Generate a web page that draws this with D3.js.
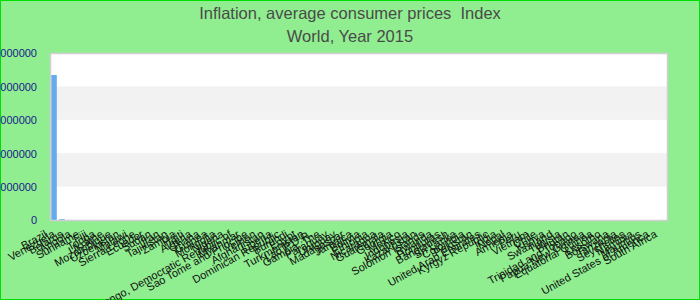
<!DOCTYPE html>
<html><head><meta charset="utf-8">
<script src="https://cdn.jsdelivr.net/npm/d3@7/dist/d3.min.js"></script>
<style>
html,body{margin:0;padding:0;background:#90EE90;}
svg{display:block;}
text.title{white-space:pre;}
</style></head>
<body>
<svg id="chart" width="700" height="300"></svg>
<script>
const titleLines = ["Inflation, average consumer prices  Index", "World, Year 2015"];
const countries = ["Brazil","Venezuela","Belarus","Angola","Suriname","Fiji","Tonga","Ukraine","Mozambique","Uzbekistan","Malawi","Sierra Leone","Ecuador","Sudan","Iran","Tajikistan","Zambia","Haiti","Algeria","Ghana","Guinea","Mongolia","Nigeria","Congo, Democratic Republic of","Myanmar","Sao Tome and Principe","Yemen","Afghanistan","Liberia","Dominican Republic","Burundi","Egypt","Turkmenistan","Lao P.D.R.","Gambia, The","Paraguay","Uruguay","Madagascar","Jamaica","Bolivia","Ethiopia","Nicaragua","Guatemala","Georgia","Mexico","Indonesia","Kazakhstan","Solomon Islands","Rwanda","Honduras","Bangladesh","Sri Lanka","Colombia","Pakistan","United Arab Emirates","Kyrgyz Republic","India","Nepal","Armenia","Peru","Vietnam","Chile","Kenya","Swaziland","Tunisia","Bhutan","Trinidad and Tobago","Papua New Guinea","Equatorial Guinea","Lesotho","Botswana","Tanzania","Seychelles","Namibia","Mauritius","United States of America","South Africa"];
const values = [43400000,260000,41000,23500,18200,15400,12800,11000,9600,8700,7900,7100,6500,5900,5400,4900,4500,4100,3800,3500,3200,2950,2700,2500,2300,2150,2000,1850,1720,1600,1490,1390,1300,1210,1130,1060,990,930,870,815,765,720,675,635,600,565,530,500,472,445,420,396,374,353,333,315,298,282,266,252,238,225,213,202,191,181,171,162,154,146,138,131,124,118,112,107,101];
const yTicks = [0,10000000,20000000,30000000,40000000,50000000];

const svg = d3.select("#chart");
const W = 700, H = 300;
svg.append("rect").attr("x",0.5).attr("y",0.5).attr("width",W-1).attr("height",H-1)
  .attr("fill","#90EE90").attr("stroke","#00e000").attr("stroke-width",1);

const tfont = "'Liberation Sans',Arial,sans-serif";
svg.selectAll("text.title").data(titleLines).enter().append("text")
  .attr("class","title").attr("x",W/2).attr("y",(d,i)=>19+i*23)
  .attr("text-anchor","middle").attr("font-family",tfont).attr("font-size",16.5)
  .attr("fill","#4a4a4a").text(d=>d);

const m = {l:50, r:32, t:53, b:80};
const x = d3.scaleBand().domain(countries).range([m.l, W-m.r]).paddingInner(0.3).paddingOuter(0.15);
const y = d3.scaleLinear().domain([0,50000000]).range([H-m.b, m.t]);

svg.append("rect").attr("x",m.l).attr("y",m.t).attr("width",W-m.r-m.l).attr("height",H-m.b-m.t).attr("fill","#fff");
const bands = yTicks.slice(0,-1).map((d,i)=>[d,yTicks[i+1]]).filter((d,i)=>i%2===1);
svg.selectAll("rect.band").data(bands).enter().append("rect").attr("class","band")
  .attr("x",m.l).attr("width",W-m.r-m.l).attr("y",d=>y(d[1])).attr("height",d=>y(d[0])-y(d[1]))
  .attr("fill","#f2f2f2");

svg.selectAll("rect.bar").data(values).enter().append("rect").attr("class","bar")
  .attr("x",(d,i)=>x(countries[i])).attr("width",x.bandwidth())
  .attr("y",d=>y(d)).attr("height",d=>y(0)-y(d)).attr("fill","#66aaf0");

svg.append("rect").attr("x",m.l+0.5).attr("y",m.t+0.5).attr("width",W-m.r-m.l-1).attr("height",H-m.b-m.t)
  .attr("fill","none").attr("stroke","#d0d0d0").attr("stroke-width",1.5);

const ya = svg.append("g").attr("transform",`translate(${m.l-13},0)`)
  .call(d3.axisLeft(y).tickValues(yTicks).tickFormat(d3.format("d")).tickSize(0));
ya.select(".domain").remove();
ya.selectAll("text").attr("font-family","'Liberation Sans',Arial,sans-serif").attr("font-size",11)
  .attr("fill","#1a1a8c").attr("dx",0).attr("dy","0.35em").attr("x",0);

const xa = svg.append("g").attr("transform",`translate(0,${H-m.b})`)
  .call(d3.axisBottom(x).tickSize(0));
xa.select(".domain").remove();
xa.selectAll("text").attr("font-family","'Liberation Sans',Arial,sans-serif").attr("font-size",11)
  .attr("fill","#111").attr("text-anchor","end")
  .attr("transform","translate(-8,13) rotate(-29)").attr("y",0).attr("dy","0.35em");
</script>
</body></html>
